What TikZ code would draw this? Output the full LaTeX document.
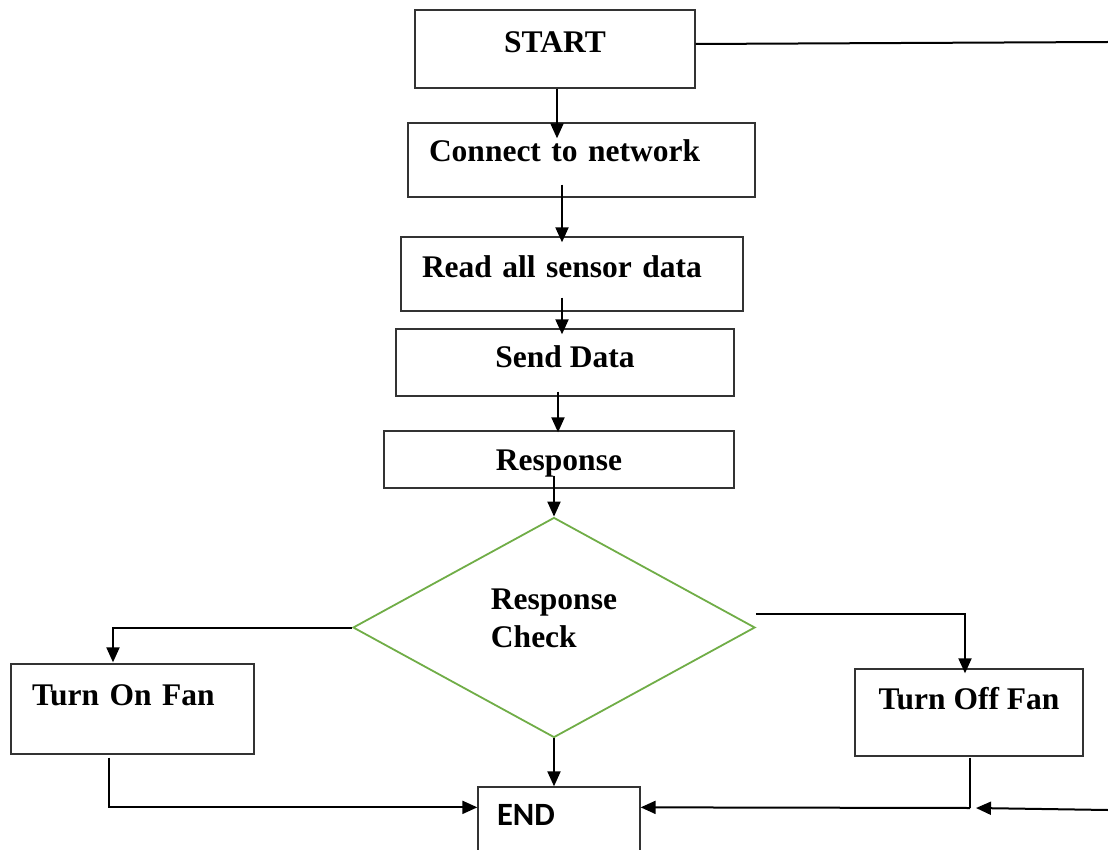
\documentclass[tikz,border=0pt]{standalone}
\usepackage{fontspec}
\setmainfont{Liberation Serif}
\newfontfamily\endfont{Carlito}
\usepackage{tikz}
\usetikzlibrary{shapes.geometric,arrows.meta,positioning}

\definecolor{dgreen}{HTML}{70AD47}

\begin{document}
\begin{tikzpicture}[
    x=1pt, y=-1pt,
    box/.style={rectangle, draw=black!80, line width=1.3pt, inner ysep=0pt, font=\fontsize{31.5}{38}\selectfont\bfseries, align=center},
    decision/.style={diamond, draw=dgreen, line width=1.8pt, inner sep=0pt, minimum width=402pt, minimum height=220pt, font=\fontsize{31.5}{38}\selectfont\bfseries, align=left},
    arrow/.style={-{Triangle[length=15pt,width=13pt]}, line width=2pt},
    link/.style={line width=2pt}
]
    \useasboundingbox (0,0) rectangle (1108,850);
    \clip (0,0) rectangle (1108,850);

    % Main column
    \node[box, minimum width=280pt, minimum height=78pt, text height=43pt, text depth=35pt] (start) at (555,49) {START};
    \node[box, inner xsep=21pt, text width=305pt, align=left, minimum height=74pt, text height=39pt, text depth=35pt] (conn) at (581.5,160) {Connect to network};
    \node[box, inner xsep=21pt, text width=300pt, align=left, minimum height=74pt, text height=40pt, text depth=34pt] (read) at (572,274) {Read all sensor data};
    \node[box, minimum width=338pt, minimum height=67pt, text height=38pt, text depth=29pt] (send) at (565,362.5) {Send Data};
    \node[box, minimum width=350pt, minimum height=57pt, text height=39pt, text depth=18pt] (resp) at (559,459.5) {Response};

    % Decision
    \node[decision] (dia) at (554,627.5) {Response\\Check\rule[-18pt]{0pt}{18pt}};

    % Outcomes
    \node[box, inner xsep=21pt, text width=201pt, align=left, minimum height=90pt, text height=41pt, text depth=49pt] (on) at (132.5,709) {Turn On Fan};
    \node[box, minimum width=228pt, minimum height=87pt, text height=40pt, text depth=47pt] (off) at (969,712.5) {Turn Off Fan};
    \node[box, inner xsep=19pt, text width=124pt, align=left, minimum height=83pt, text height=38pt, text depth=45pt, font=\fontsize{32.5}{38}\selectfont\endfont\bfseries] (end) at (559,828.5) {END};

    % Loose ends
    \coordinate (rtop) at (1108,42);
    \coordinate (rbot) at (1108,810);
    \coordinate (jn) at (970,808);

    % Arrows
    \draw[link] ([yshift=5pt]start.east) -- (rtop);
    \draw[arrow] ([xshift=2pt]start.south) -- ([xshift=-24.5pt,yshift=-16pt]conn.north);
    \draw[arrow] ([xshift=-19.5pt,yshift=13pt]conn.south) -- ([xshift=-10pt,yshift=-6pt]read.north);
    \draw[arrow] ([xshift=-10pt,yshift=14pt]read.south) -- ([xshift=-3pt,yshift=-6pt]send.north);
    \draw[arrow] ([xshift=-7pt,yshift=5pt]send.south) -- ([xshift=-1pt,yshift=-2pt]resp.north);
    \draw[arrow] ([xshift=-5pt,yshift=13pt]resp.south) -- (dia.north);
    \draw[arrow] (dia.west) -| ([xshift=-19.5pt,yshift=1pt]on.north);
    \draw[arrow] ([yshift=14pt]dia.east) -| ([xshift=-4pt,yshift=-5pt]off.north);
    \draw[arrow] (dia.south) -- (dia.south |- end.north);
    \draw[arrow] ([xshift=-23.5pt,yshift=-3pt]on.south) |- ([yshift=-21pt]end.north west);
    \draw[link] ([xshift=1pt,yshift=-1pt]off.south) -- (jn);
    \draw[arrow] (jn) -- ([yshift=-21pt]end.north east);
    \draw[arrow] (rbot) -- ([xshift=6pt]jn);
\end{tikzpicture}
\end{document}
